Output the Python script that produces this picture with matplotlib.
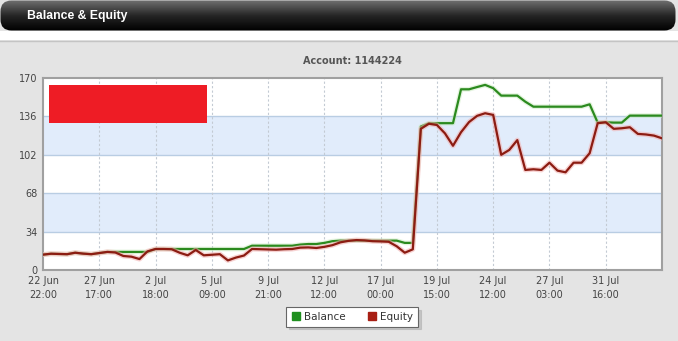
import numpy as np
import matplotlib
matplotlib.use("Agg")
import matplotlib.pyplot as plt
import matplotlib.patheffects as pe
from matplotlib.patches import FancyBboxPatch, Rectangle
from matplotlib.colors import LinearSegmentedColormap
from matplotlib.lines import Line2D

# values (one point per step on an index axis)
equity = [13.6, 14.4, 14.2, 14.0, 15.3, 14.5, 14.0, 15.0, 16.0, 15.5,
          12.4, 11.8, 9.7, 16.5, 18.6, 18.6, 18.4, 15.3, 13.0, 17.7,
          13.0, 13.5, 14.0, 8.5, 11.0, 12.8, 18.6, 18.4, 18.2, 18.0,
          18.4, 18.6, 19.8, 20.0, 19.5, 20.5, 22.0, 24.5, 25.8, 26.5,
          26.2, 25.5, 25.3, 25.0, 21.0, 15.3, 18.3, 125.0, 129.5, 128.4,
          121.0, 110.0, 122.0, 131.0, 136.5, 138.8, 137.3, 102.0, 106.3, 115.0,
          88.6, 89.2, 88.6, 95.0, 88.0, 86.5, 95.0, 95.0, 103.4, 130.0,
          130.8, 125.0, 125.5, 126.4, 120.5, 120.0, 119.0, 116.6]
balance = [13.6, 14.4, 14.2, 14.0, 15.3, 14.5, 14.0, 15.0, 16.0, 16.0,
           16.0, 16.0, 16.0, 16.0, 18.6, 18.6, 18.6, 18.6, 18.6, 18.6,
           18.6, 18.6, 18.6, 18.6, 18.6, 18.6, 21.5, 21.5, 21.5, 21.5,
           21.5, 21.5, 22.5, 23.0, 23.0, 24.0, 25.5, 26.0, 26.0, 26.0,
           26.0, 26.0, 26.0, 26.0, 26.0, 24.0, 24.0, 127.0, 130.0, 130.0,
           130.0, 130.0, 160.0, 160.0, 162.0, 163.9, 161.0, 154.4, 154.4, 154.4,
           149.0, 144.6, 144.6, 144.6, 144.6, 144.6, 144.6, 144.6, 146.7, 130.5,
           130.8, 130.5, 130.5, 136.7, 136.7, 136.7, 136.7, 136.7]
xlabels = ["22 Jun\n22:00", "27 Jun\n17:00", "2 Jul\n18:00", "5 Jul\n09:00",
           "9 Jul\n21:00", "12 Jul\n12:00", "17 Jul\n00:00", "19 Jul\n15:00",
           "24 Jul\n12:00", "27 Jul\n03:00", "31 Jul\n16:00"]
yticks = [0, 34, 68, 102, 136, 170]

W, H = 678, 341
fig = plt.figure(figsize=(W / 100, H / 100), dpi=100, facecolor="#e4e4e4")

# white strip under header + border line
fig.patches.append(Rectangle((0, 1 - 40 / H), 1, 9 / H, transform=fig.transFigure,
                             facecolor="white", edgecolor="none", zorder=0))
fig.add_artist(Line2D([0, 1], [1 - 40.5 / H] * 2, color="#c4c4c4", lw=1))

# header bar with gradient
hax = fig.add_axes([0, 1 - 31 / H, 676 / W, 31 / H])
hax.set_xlim(0, 676)
hax.set_ylim(31, 0)
hax.axis("off")
cmap = LinearSegmentedColormap.from_list("hdr", ["#707070", "#262626", "#000000"])
im = hax.imshow(np.linspace(0, 1, 64).reshape(-1, 1), cmap=cmap, aspect="auto",
                extent=[0, 676, 31, 0])
clip = FancyBboxPatch((0.5, 0.5), 675, 30, boxstyle="round,pad=0,rounding_size=11",
                      facecolor="none", edgecolor="none", transform=hax.transData)
hax.add_patch(clip)
im.set_clip_path(clip)
hax.text(27, 15.5, "Balance & Equity", color="white", fontsize=8.8, fontweight="bold",
         family="Liberation Sans", va="center", ha="left")

fig.text(352 / W, 1 - 61 / H, "Account: 1144224", color="#555555", fontsize=7,
         fontweight="bold", ha="center", va="center")

# main chart
ax = fig.add_axes([43 / W, 1 - 270 / H, 619 / W, 192 / H])
x = np.arange(len(equity))
ax.set_xlim(0, 77)
ax.set_ylim(0, 170)
ax.set_facecolor("white")
for lo, hi in [(34, 68), (102, 136)]:
    ax.axhspan(lo, hi, color="#e1ecfb", zorder=0, lw=0)
for yv in yticks[1:-1]:
    ax.axhline(yv, color="#b9cde3", lw=1, zorder=1)
xt = np.arange(0, 71, 7)
for xv in xt[1:]:
    ax.axvline(xv, color="#c3cad3", lw=0.8, ls=(0, (2, 2)), zorder=1)

ax.plot(x, balance, color="#2b8a1e", lw=1.6, zorder=3,
        path_effects=[pe.Stroke(linewidth=3.4, foreground="#c4e8b8", alpha=0.45), pe.Normal()])
ax.plot(x, equity, color="#8c1c12", lw=1.6, zorder=4,
        path_effects=[pe.Stroke(linewidth=3.6, foreground="#f2aeae", alpha=0.55), pe.Normal()])

ax.add_patch(Rectangle((0.0097, 0.766), 0.255, 0.198, transform=ax.transAxes,
                       facecolor="#ee1c25", edgecolor="none", zorder=6))

ax.set_xticks(xt)
ax.set_xticklabels(xlabels, linespacing=1.5)
ax.set_yticks(yticks)
ax.tick_params(length=0, labelsize=7, colors="#444444", pad=4)
for s in ax.spines.values():
    s.set_color("#a0a0a0")
    s.set_linewidth(1.5)

handles = [Line2D([], [], marker="s", ls="none", color="#1f8f1f", markersize=6),
           Line2D([], [], marker="s", ls="none", color="#a81f14", markersize=6)]
leg = fig.legend(handles, ["Balance", "Equity"], loc="center",
                 bbox_to_anchor=(352 / W, 1 - 317 / H), ncol=2, fontsize=7.5,
                 frameon=True, fancybox=False, shadow={"color": "#b0b0b0", "alpha": 0.6},
                 handletextpad=0.3, columnspacing=2.0, borderpad=0.45, handlelength=1.0)
leg.get_frame().set_edgecolor("#666666")
leg.get_frame().set_linewidth(0.8)
for t in leg.get_texts():
    t.set_color("#333333")

fig.savefig("out.png", dpi=100, facecolor=fig.get_facecolor())
